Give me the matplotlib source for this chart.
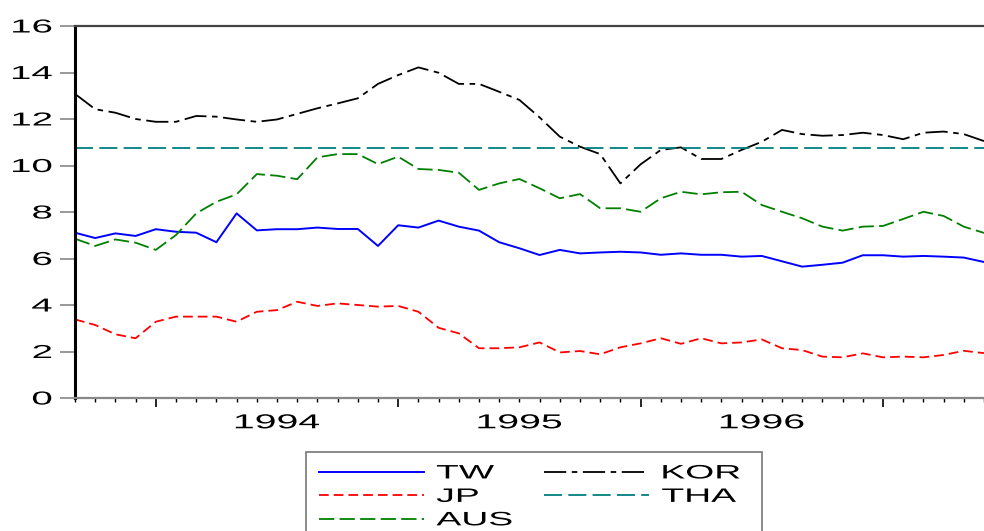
import numpy as np
import pandas as pd
import matplotlib
matplotlib.use("Agg")
import matplotlib.pyplot as plt
from matplotlib.patheffects import AbstractPathEffect
from matplotlib.transforms import Affine2D

plt.rcParams['font.family'] = ['Liberation Sans', 'DejaVu Sans']
plt.rcParams['lines.scale_dashes'] = False

# monthly series, Sep 1993 onwards
months = pd.period_range('1993-09', periods=46, freq='M')

tw = [7.11, 6.88, 7.08, 6.97, 7.26, 7.15, 7.11, 6.70, 7.94, 7.21,
      7.26, 7.26, 7.33, 7.27, 7.27, 6.54, 7.43, 7.33, 7.63, 7.37,
      7.20, 6.70, 6.44, 6.15, 6.37, 6.22, 6.26, 6.29, 6.26, 6.16,
      6.22, 6.16, 6.16, 6.08, 6.11, 5.88, 5.65, 5.73, 5.82, 6.14,
      6.14, 6.08, 6.11, 6.08, 6.04, 5.85]
jp = [3.38, 3.14, 2.74, 2.57, 3.28, 3.50, 3.50, 3.50, 3.28, 3.71,
      3.78, 4.14, 3.96, 4.07, 4.00, 3.93, 3.96, 3.71, 3.02, 2.78,
      2.14, 2.14, 2.18, 2.39, 1.96, 2.02, 1.88, 2.18, 2.35, 2.57,
      2.33, 2.57, 2.35, 2.39, 2.52, 2.14, 2.06, 1.78, 1.75, 1.92,
      1.75, 1.78, 1.75, 1.85, 2.03, 1.93]
aus = [6.85, 6.54, 6.82, 6.68, 6.37, 7.01, 7.94, 8.44, 8.76, 9.63,
       9.56, 9.41, 10.35, 10.49, 10.49, 10.06, 10.38, 9.85, 9.81, 9.69,
       8.95, 9.23, 9.42, 9.02, 8.59, 8.77, 8.16, 8.16, 8.01, 8.59,
       8.87, 8.76, 8.85, 8.87, 8.30, 8.01, 7.73, 7.37, 7.20, 7.37,
       7.40, 7.70, 8.01, 7.83, 7.37, 7.10]
kor = [13.08, 12.42, 12.27, 12.00, 11.88, 11.88, 12.13, 12.10, 11.98, 11.88,
       11.98, 12.22, 12.46, 12.67, 12.89, 13.51, 13.89, 14.22, 13.99, 13.51,
       13.51, 13.17, 12.82, 12.07, 11.24, 10.81, 10.49, 9.23, 10.05, 10.67,
       10.78, 10.28, 10.28, 10.67, 11.02, 11.53, 11.35, 11.28, 11.31, 11.41,
       11.31, 11.13, 11.41, 11.46, 11.35, 11.05]
tha = [10.77] * 46

labels = ['TW', 'JP', 'AUS', 'KOR', 'THA']


class StretchX(AbstractPathEffect):
    """Widen a path horizontally, keeping its left, centre or right edge fixed."""

    def __init__(self, sx, anchor='left'):
        super().__init__()
        self.sx = sx
        self.anchor = anchor

    def draw_path(self, renderer, gc, tpath, affine, rgbFace=None):
        ext = tpath.get_extents()
        cx = {'left': ext.x0, 'center': (ext.x0 + ext.x1) / 2, 'right': ext.x1}[self.anchor]
        stretch = Affine2D().translate(-cx, 0).scale(self.sx, 1).translate(cx, 0)
        renderer.draw_path(gc, tpath, stretch + affine, rgbFace)


x = np.arange(len(months))

fig = plt.figure(figsize=(9.84, 5.31), dpi=100)
ax = fig.add_axes([75 / 984, 1 - 398 / 531, (984 - 75) / 984, (398 - 26) / 531])

l_tw, = ax.plot(x, tw, color='#0000ff', lw=1.4)
l_jp, = ax.plot(x, jp, color='#ff0000', lw=1.3, dashes=(7, 3.6))
l_aus, = ax.plot(x, aus, color='#008000', lw=1.3, dashes=(11, 3.8))
l_kor, = ax.plot(x, kor, color='black', lw=1.3, dashes=(16, 4, 4, 4))
l_tha, = ax.plot(x, tha, color='#008080', lw=1.3, dashes=(13, 4.5))

ax.set_xlim(0, (984 - 75.5) / 20.4)
ax.set_ylim(0, 16)
ax.set_yticks(np.arange(0, 17, 2))
ax.tick_params(axis='y', length=10.5, width=1.2, color='#888888', pad=6, labelsize=13.5)
for t in ax.get_yticklabels():
    t.set_path_effects([StretchX(2.05, 'right')])

# month ticks, longer ticks at January
jan = [i for i, m in enumerate(months) if m.month == 1]
ax.set_xticks(jan)
ax.set_xticklabels([])
ax.set_xticks(x, minor=True)
ax.tick_params(axis='x', which='major', length=6.5, width=1.2, color='black')
ax.tick_params(axis='x', which='minor', length=3.0, width=1.0, color='black')

# year labels centred on each year
years = ax.secondary_xaxis('bottom')
mid = [j + 6 for j in jan if j + 6 < ax.get_xlim()[1]]
years.set_xticks(mid)
years.set_xticklabels([str(months[j].year) for j in jan if j + 6 < ax.get_xlim()[1]])
years.tick_params(length=0, pad=11, labelsize=14.5)
years.spines['bottom'].set_visible(False)
for t in years.get_xticklabels():
    t.set_path_effects([StretchX(1.95, 'center')])

ax.spines['left'].set_linewidth(2.2)
ax.spines['left'].set_color('black')
ax.spines['top'].set_linewidth(1.6)
ax.spines['top'].set_color('#444444')
ax.spines['bottom'].set_linewidth(1.6)
ax.spines['bottom'].set_color('#888888')
ax.spines['right'].set_visible(False)

leg = fig.legend([l_tw, l_jp, l_aus, l_kor, l_tha], labels,
                 loc='upper left', bbox_to_anchor=(306 / 984, 1 - 452 / 531),
                 ncol=2, fontsize=14, frameon=True, fancybox=False,
                 borderaxespad=0, borderpad=0.66, handlelength=5.4, handletextpad=0.65,
                 columnspacing=3.48, labelspacing=0.3)
leg.get_frame().set_edgecolor('#555555')
leg.get_frame().set_linewidth(1.2)
for t in leg.get_texts():
    t.set_path_effects([StretchX(1.92, 'left')])

# widen the frame so the stretched labels sit inside it
fig.canvas.draw()
frame_box = leg.get_frame().get_window_extent()
leg.get_frame().set_path_effects([StretchX((762 - frame_box.x0) / frame_box.width, 'left')])

fig.savefig('out.png', dpi=100)
